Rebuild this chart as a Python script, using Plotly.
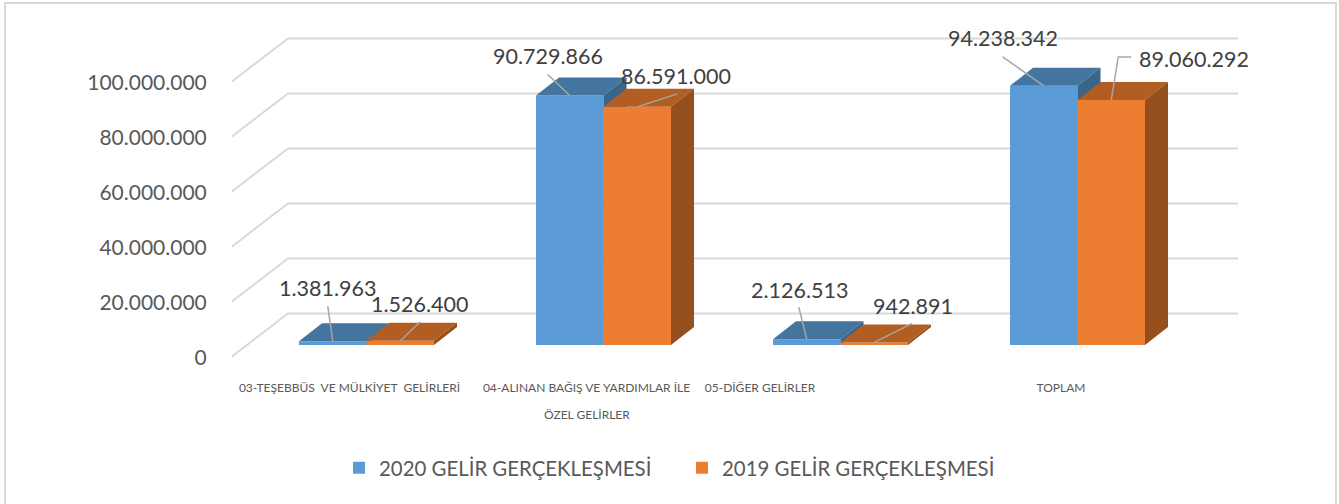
import plotly.graph_objects as go

# ---- data ----
categories = ["03-TEŞEBBÜS\u00a0 VE MÜLKİYET\u00a0 GELİRLERİ",
              "04-ALINAN BAĞIŞ VE YARDIMLAR İLE",
              "05-DİĞER GELİRLER",
              "TOPLAM"]
category_second_line = "ÖZEL GELİRLER"
series_2020 = [1381963, 90729866, 2126513, 94238342]
series_2019 = [1526400, 86591000, 942891, 89060292]
name_2020 = "2020 GELİR GERÇEKLEŞMESİ"
name_2019 = "2019 GELİR GERÇEKLEŞMESİ"
y_ticks = [0, 20000000, 40000000, 60000000, 80000000, 100000000]
y_tick_labels = ["0", "20.000.000", "40.000.000", "60.000.000", "80.000.000", "100.000.000"]
labels_2020 = ["1.381.963", "90.729.866", "2.126.513", "94.238.342"]
labels_2019 = ["1.526.400", "86.591.000", "942.891", "89.060.292"]

# ---- layout geometry (pixels of the 1339x504 page) ----
W, H = 1339, 504
PX_X = 237.0          # pixels per category
X0 = 366.5            # pixel of category 0 centre
PX_Y = 2.75e-6        # pixels per unit of value
Y0 = 358.0            # pixel of value 0 on the front of the wall
PLOT_L, PLOT_B, PLOT_T = 232.0, 375.0, 6.0
BAR_W = 67.5 / PX_X
FLOOR = 13 / PX_Y     # bars stand a little behind the front edge
DX, DY = 23 / PX_X, 18 / PX_Y          # bar depth
WX0, WX1 = -(X0 - 230) / PX_X, (1238 - X0) / PX_X
WDX, WDY = 58 / PX_X, 44.5 / PX_Y      # wall depth
tick_shift_px = [-17, -17, -80.5, -16.5]

label_off_2020 = [(-5.5, -53), (-22, -39.5), (-7.5, -49), (-40.5, -48)]
label_off_2019 = [(19.5, -37), (38.5, -31), (38.5, -36), (82.5, -41)]
lead_2020 = [[(-5, -35)], [(-22, -21)], [(-8, -32)], [(-41, -29)]]
lead_2019 = [[(20, -19)], [(40, -13)], [(38, -19)], [(7, -43), (20, -43)]]

C = {"f0": "#5B9BD5", "t0": "#44759F", "s0": "#3B6489",
     "f1": "#ED7D31", "t1": "#B25E22", "s1": "#954F1C",
     "grid": "#D9D9D9", "axis": "#595959", "label": "#404040", "lead": "#A6A6A6"}

fig = go.Figure()
idx = list(range(len(categories)))

# walls / gridlines
gx, gy = [], []
for t in y_ticks:
    gx += [WX0, WX0 + WDX, WX1, None]
    gy += [t, t + WDY, t + WDY, None]
fig.add_trace(go.Scatter(x=gx, y=gy, mode="lines", line=dict(color=C["grid"], width=2),
                         showlegend=False, hoverinfo="skip"))


def series(values, k, name, xa, ya):
    left = [i - BAR_W if k == 0 else i for i in idx]
    fig.add_trace(go.Bar(x=idx, y=values, base=[FLOOR] * len(values), width=[BAR_W] * len(values),
                         offset=[-BAR_W if k == 0 else 0] * len(values), name=name,
                         marker=dict(color=C[f"f{k}"], line=dict(width=0)),
                         xaxis=xa, yaxis=ya, hoverinfo="skip"))
    tx, ty, sx, sy = [], [], [], []
    for l, v in zip(left, values):
        top = FLOOR + v
        r = l + BAR_W
        tx += [l, l + DX, r + DX, r, l, None]
        ty += [top, top + DY, top + DY, top, top, None]
        sx += [r, r + DX, r + DX, r, r, None]
        sy += [FLOOR, FLOOR + DY, top + DY, top, FLOOR, None]
    for xs, ys, col in ((tx, ty, C[f"t{k}"]), (sx, sy, C[f"s{k}"])):
        fig.add_trace(go.Scatter(x=xs, y=ys, mode="lines", fill="toself", fillcolor=col,
                                 line=dict(width=0, color=col), showlegend=False,
                                 xaxis=xa, yaxis=ya, hoverinfo="skip"))


series(series_2020, 0, name_2020, "x2", "y2")
series(series_2019, 1, name_2019, "x3", "y3")

# leader lines and data labels
lx, ly, ann = [], [], []
for values, texts, leads, offs, sgn in ((series_2020, labels_2020, lead_2020, label_off_2020, -1),
                                        (series_2019, labels_2019, lead_2019, label_off_2019, 1)):
    for i, v in enumerate(values):
        cx = i + sgn * BAR_W / 2
        top = FLOOR + v
        lx.append(cx)
        ly.append(top)
        for dx, dy in leads[i]:
            lx.append(cx + dx / PX_X)
            ly.append(top - dy / PX_Y)
        lx.append(None)
        ly.append(None)
        ann.append(dict(x=cx, y=top, xref="x", yref="y", text=texts[i], showarrow=False,
                        xshift=offs[i][0], yshift=-offs[i][1],
                        font=dict(color=C["label"], size=21.5, family="Lato")))
fig.add_trace(go.Scatter(x=lx, y=ly, mode="lines", line=dict(color=C["lead"], width=1.5),
                         showlegend=False, xaxis="x3", yaxis="y3", hoverinfo="skip"))
ann.append(dict(x=1 + tick_shift_px[1] / PX_X, y=1 - 414 / H, xref="x", yref="paper",
                yanchor="middle", text=category_second_line, showarrow=False,
                font=dict(size=12, color=C["axis"], family="Lato")))

xr = [(PLOT_L - X0) / PX_X, (W - X0) / PX_X]
yr = [(Y0 - PLOT_B) / PX_Y, (Y0 - PLOT_T) / PX_Y]
xd = [PLOT_L / W, 1]
yd = [1 - PLOT_B / H, 1 - PLOT_T / H]
hidden_x = dict(domain=xd, range=xr, overlaying="x", visible=False)
hidden_y = dict(domain=yd, range=yr, overlaying="y", visible=False)
fig.update_layout(
    width=W, height=H, margin=dict(l=0, r=0, t=0, b=0, autoexpand=False),
    paper_bgcolor="white", plot_bgcolor="rgba(0,0,0,0)", barmode="overlay",
    font=dict(family="Lato", color=C["axis"]),
    xaxis=dict(domain=xd, range=xr, showgrid=False, zeroline=False, showline=False,
               tickmode="array", tickvals=[i + s / PX_X for i, s in zip(idx, tick_shift_px)],
               ticktext=categories, ticks="outside", ticklen=2, tickcolor="rgba(0,0,0,0)",
               tickfont=dict(size=12, color=C["axis"], family="Lato"), tickangle=0),
    yaxis=dict(domain=yd, range=yr, showgrid=False, zeroline=False, showline=False,
               tickmode="array", tickvals=y_ticks, ticktext=y_tick_labels,
               ticks="outside", ticklen=20, tickcolor="rgba(0,0,0,0)",
               tickfont=dict(size=21, color=C["axis"], family="Lato")),
    xaxis2=dict(hidden_x, anchor="y2"), yaxis2=dict(hidden_y, anchor="x2"),
    xaxis3=dict(hidden_x, anchor="y3"), yaxis3=dict(hidden_y, anchor="x3"),
    legend=dict(orientation="h", x=339 / W, xanchor="left", y=1 - 468 / H, yanchor="middle",
                entrywidth=298, entrywidthmode="pixels",
                font=dict(size=20.4, color=C["axis"], family="Lato"), traceorder="normal"),
    annotations=ann,
    shapes=[dict(type="rect", xref="paper", yref="paper", x0=5 / W, x1=1336 / W, y0=-0.01, y1=1 - 3 / H,
                 line=dict(color="#D9D9D9", width=2), layer="below")],
)
fig.write_html("out.html", config={"displayModeBar": False},
               post_script="document.body.style.margin='0';document.body.style.overflow='hidden';")
